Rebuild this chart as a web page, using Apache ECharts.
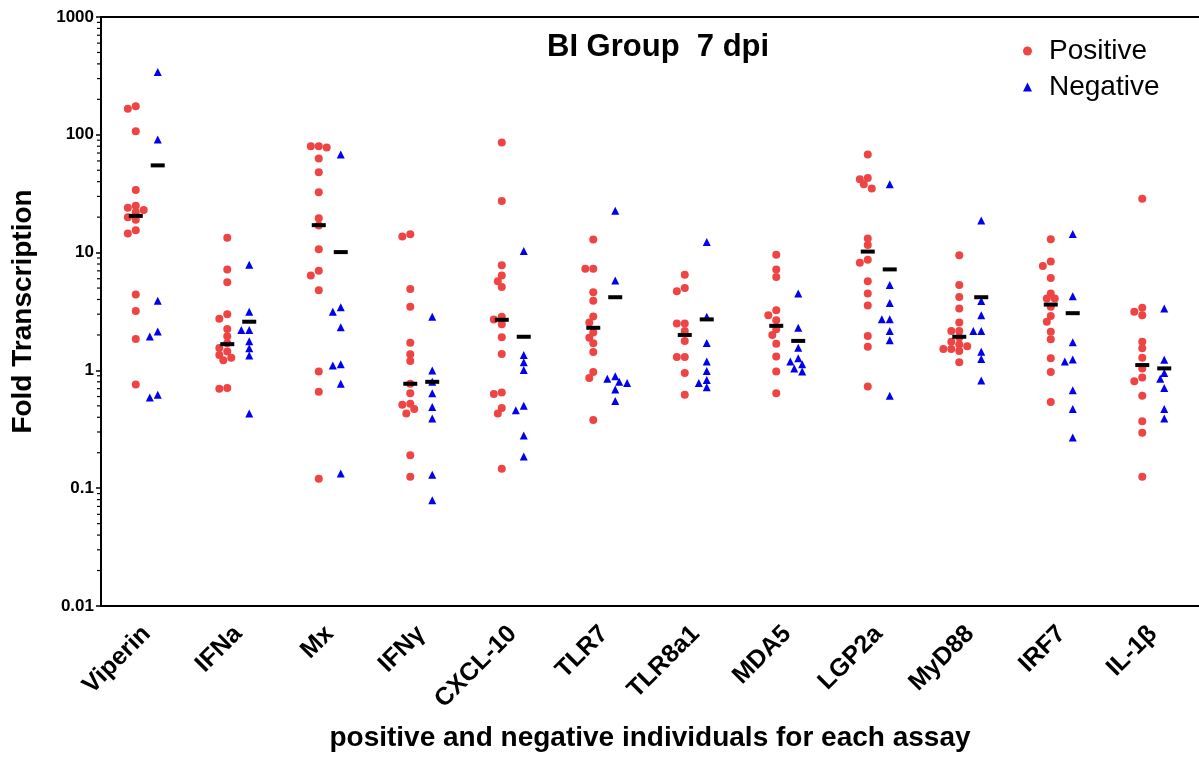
<!DOCTYPE html>
<html>
<head>
<meta charset="utf-8">
<script src="https://cdn.jsdelivr.net/npm/echarts@6/dist/echarts.min.js"></script>
<style>
  html, body { margin: 0; padding: 0; background: #fff; }
  #chart { width: 1199px; height: 757px; }
</style>
</head>
<body>
<div id="chart"></div>
<script>
const categories = ['Viperin', 'IFNa', 'Mx', 'IFNγ', 'CXCL-10', 'TLR7', 'TLR8a1', 'MDA5', 'LGP2a', 'MyD88', 'IRF7', 'IL-1β']

// fold transcription per individual
const posViperin = [175, 166, 107, 34, 25, 24, 23, 22, 20, 19, 15.5, 14.5, 4.4, 3.2, 1.85, 0.76]
const negViperin = [341, 91, 3.9, 2.14, 1.94, 0.62, 0.59]
const posIFNa = [13.4, 7.2, 5.6, 3.0, 2.75, 2.25, 1.95, 1.7, 1.55, 1.45, 1.35, 1.28, 1.22, 0.71, 0.7]
const negIFNa = [7.9, 3.14, 2.2, 2.2, 1.77, 1.54, 1.34, 0.43]
const posMx = [80, 80, 78, 63, 48, 32.5, 19.6, 17, 10.7, 7.0, 6.4, 4.8, 0.98, 0.66, 0.12]
const negMx = [68, 3.44, 3.14, 2.33, 1.13, 1.1, 0.77, 0.133]
const posIFNg = [14.3, 13.7, 4.9, 3.47, 1.72, 1.37, 1.2, 0.77, 0.64, 0.52, 0.51, 0.47, 0.43, 0.19, 0.125]
const negIFNg = [2.85, 1.0, 0.8, 0.64, 0.49, 0.39, 0.13, 0.079]
const posCXCL10 = [86, 27.4, 7.8, 6.4, 5.7, 5.1, 2.85, 2.7, 2.47, 1.91, 1.38, 0.65, 0.63, 0.48, 0.43, 0.146]
const negCXCL10 = [10.3, 1.35, 1.17, 1.01, 0.5, 0.46, 0.28, 0.186]
const posTLR7 = [12.9, 7.3, 7.3, 4.6, 3.9, 2.87, 2.55, 2.1, 1.89, 1.7, 1.43, 0.97, 0.86, 0.38]
const negTLR7 = [22.7, 5.8, 0.89, 0.85, 0.8, 0.78, 0.69, 0.55]
const posTLR8a1 = [6.5, 5.0, 4.7, 2.5, 2.5, 2.16, 1.78, 1.3, 1.3, 0.95, 0.62]
const negTLR8a1 = [12.3, 2.85, 1.71, 1.19, 0.99, 0.83, 0.78, 0.72]
const posMDA5 = [9.6, 7.2, 6.2, 3.24, 2.94, 2.67, 2.24, 2.0, 1.68, 1.31, 0.98, 0.64]
const negMDA5 = [4.5, 2.3, 1.56, 1.27, 1.19, 1.13, 1.04, 0.98]
const posLGP2a = [68, 43, 42, 38, 35, 13.2, 11.6, 8.7, 8.2, 5.7, 4.5, 3.55, 1.96, 1.59, 0.73]
const negLGP2a = [38, 5.3, 3.74, 2.72, 2.72, 2.16, 1.8, 0.61]
const posMyD88 = [9.5, 5.3, 4.2, 3.36, 2.55, 2.16, 2.16, 1.9, 1.75, 1.66, 1.6, 1.52, 1.52, 1.46, 1.17]
const negMyD88 = [18.7, 3.89, 2.94, 2.16, 2.16, 1.44, 1.25, 0.82]
const posIRF7 = [13.0, 8.4, 7.7, 6.1, 4.5, 4.07, 4.07, 3.47, 2.89, 2.59, 2.13, 1.84, 1.27, 0.97, 0.54]
const negIRF7 = [14.4, 4.26, 1.73, 1.24, 1.19, 0.68, 0.47, 0.27]
const posIL1b = [28.6, 3.4, 3.15, 2.94, 1.75, 1.54, 1.28, 1.04, 0.87, 0.81, 0.61, 0.37, 0.295, 0.125]
const negIL1b = [3.36, 1.23, 0.95, 0.85, 0.71, 0.47, 0.39]

// black bars drawn for each group
const posMedian = [20.5, 1.67, 17.1, 0.77, 2.69, 2.3, 2.0, 2.39, 10.2, 1.93, 3.62, 1.11]
const negMedian = [55, 2.59, 10.1, 0.8, 1.93, 4.18, 2.71, 1.78, 7.2, 4.18, 3.06, 1.04]

const positive = [posViperin, posIFNa, posMx, posIFNg, posCXCL10, posTLR7, posTLR8a1, posMDA5, posLGP2a, posMyD88, posIRF7, posIL1b]
const negative = [negViperin, negIFNa, negMx, negIFNg, negCXCL10, negTLR7, negTLR8a1, negMDA5, negLGP2a, negMyD88, negIRF7, negIL1b]

const FONT = 'Liberation Sans'
const SIDE = 0.12          // group offset from the category centre
const PX_PER_CAT = 92.2    // approx pixel width of one category
const PX_PER_DECADE = 118.4
const MIN_DIST = 6.5
const STEP = 4

// simple beeswarm so overlapping points spread sideways
function swarm(values, centre) {
    const placed = []
    return values.slice().sort((a, b) => b - a).map((v) => {
        const py = -Math.log10(v) * PX_PER_DECADE
        let off = 0
        for (let k = 0; k < 30; k++) {
            const cand = k === 0 ? 0 : (k % 2 ? -1 : 1) * Math.ceil(k / 2) * STEP
            if (placed.every((p) => Math.hypot(p[0] - cand, p[1] - py) >= MIN_DIST)) {
                off = cand
                break
            }
        }
        placed.push([off, py])
        return [centre + off / PX_PER_CAT, v]
    })
}

const posPoints = positive.flatMap((vals, i) => swarm(vals, i - SIDE))
const negPoints = negative.flatMap((vals, i) => swarm(vals, i + SIDE))
const barPoints = posMedian.map((v, i) => [i - SIDE, v]).concat(negMedian.map((v, i) => [i + SIDE, v]))

const minorTicks = []
for (let d = -2; d < 3; d++) {
    for (let m = 2; m < 10; m++) minorTicks.push([-0.5, m * Math.pow(10, d)])
}

const chart = echarts.init(document.getElementById('chart'))
chart.setOption({
    animation: false,
    backgroundColor: '#fff',
    textStyle: { fontFamily: FONT },
    title: {
        text: 'BI Group  7 dpi',
        left: 542,
        top: 27,
        textStyle: { fontSize: 31, fontWeight: 'bold', color: '#000', fontFamily: FONT },
    },
    legend: {
        orient: 'vertical',
        left: 1018,
        top: 32,
        itemWidth: 9,
        itemHeight: 9,
        itemGap: 8,
        data: [
            { name: 'Positive', icon: 'circle' },
            { name: 'Negative', icon: 'triangle' },
        ],
        textStyle: { fontSize: 28, color: '#000', fontFamily: FONT, padding: [0, 0, 0, 12] },
    },
    grid: { left: 101, right: -8, top: 17, bottom: 148 },
    xAxis: [
        {
            type: 'category',
            data: categories,
            position: 'bottom',
            axisLine: { lineStyle: { color: '#000', width: 2 } },
            axisTick: { alignWithLabel: true, length: 7, lineStyle: { width: 2 } },
            axisLabel: { rotate: 45, margin: 24, fontSize: 25, fontWeight: 'bold', color: '#000', interval: 0 },
            name: 'positive and negative individuals for each assay',
            nameLocation: 'middle',
            nameGap: 118,
            nameTextStyle: { fontSize: 28, fontWeight: 'bold', color: '#000' },
        },
        {
            type: 'value',
            min: -0.5,
            max: 11.5,
            position: 'top',
            axisLine: { show: true, onZero: false, lineStyle: { color: '#000', width: 2 } },
            axisTick: { show: false },
            axisLabel: { show: false },
            splitLine: { show: false },
        },
    ],
    yAxis: {
        type: 'log',
        logBase: 10,
        min: 0.01,
        max: 1000,
        axisLine: { show: true, onZero: false, lineStyle: { color: '#000', width: 2 } },
        axisTick: { show: true, length: 5, lineStyle: { width: 1.5 } },
        splitLine: { show: false },
        axisLabel: {
            margin: 7,
            fontSize: 17,
            fontWeight: 'bold',
            color: '#000',
            formatter: (v) => String(Number(v.toPrecision(2))),
        },
        name: 'Fold Transcription',
        nameLocation: 'middle',
        nameGap: 64,
        nameTextStyle: { fontSize: 28, fontWeight: 'bold', color: '#000' },
    },
    series: [
        {
            name: 'Positive',
            type: 'scatter',
            xAxisIndex: 1,
            symbol: 'circle',
            symbolSize: 8,
            itemStyle: { color: '#EF4444', opacity: 1 },
            data: posPoints,
        },
        {
            name: 'Negative',
            type: 'scatter',
            xAxisIndex: 1,
            symbol: 'triangle',
            symbolSize: 8,
            itemStyle: { color: '#0000EE', opacity: 1 },
            data: negPoints,
        },
        {
            name: 'median',
            type: 'scatter',
            xAxisIndex: 1,
            symbol: 'rect',
            symbolSize: [14, 4],
            z: 5,
            itemStyle: { color: '#000', opacity: 1 },
            data: barPoints,
        },
        {
            name: 'minor',
            type: 'scatter',
            xAxisIndex: 1,
            symbol: 'rect',
            symbolSize: [4, 1.2],
            symbolOffset: [-2, 0],
            clip: false,
            silent: true,
            itemStyle: { color: '#000', opacity: 1 },
            data: minorTicks,
        },
    ],
})
</script>
</body>
</html>
